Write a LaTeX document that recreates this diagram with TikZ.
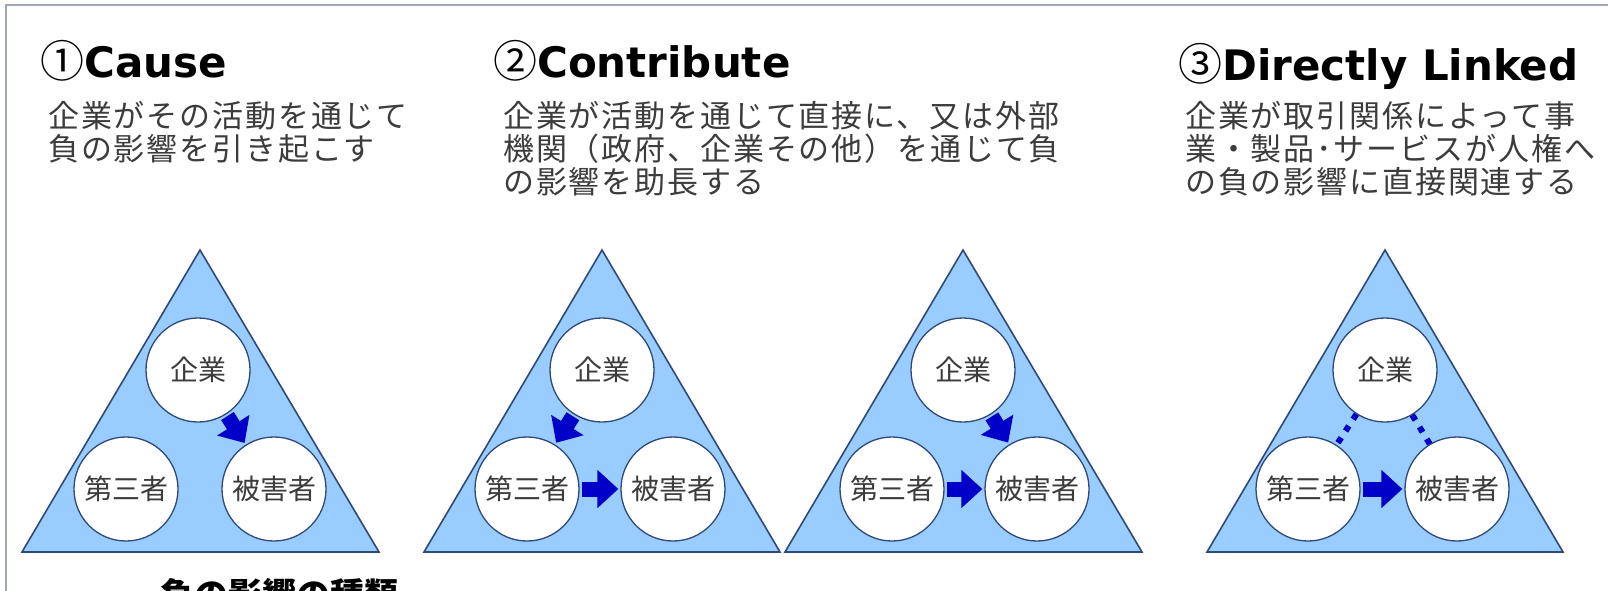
\documentclass[tikz,border=0pt]{standalone}
\usepackage{fontspec}
\setmainfont{DejaVu Sans}
\newfontfamily\jp{Noto Sans CJK JP}
\newfontfamily\jpsub[LetterSpace=6]{Noto Sans CJK JP}
\usetikzlibrary{arrows.meta}
\definecolor{trifill}{RGB}{153,204,255}
\definecolor{triline}{RGB}{47,74,120}
\definecolor{arrblue}{RGB}{0,0,200}
\definecolor{txtgray}{RGB}{60,60,60}
\definecolor{framegray}{RGB}{160,168,184}
\newcommand{\circnum}[1]{{\jp\mdseries\fontsize{44}{44}\selectfont #1}}
\tikzset{
  tribox/.style={fill=trifill, draw=triline, line width=1.6pt, line join=miter},
  party/.style={circle, draw=triline, line width=1.3pt, fill=white, minimum size=104pt, inner sep=0pt,
    font=\jp\fontsize{28}{28}\selectfont, text=txtgray},
  blockarrow/.style={draw=arrblue, line width=15pt, -{Triangle[length=21pt,width=37pt]},
    shorten <=2pt, shorten >=2pt},
  dotlink/.style={draw=arrblue, line width=6pt, dash pattern=on 6pt off 8pt},
  titletext/.style={inner sep=0pt, anchor=base west, font=\fontsize{42}{42}\selectfont\bfseries},
  subtext/.style={inner sep=0pt, anchor=base west, font=\jpsub\fontsize{31}{34}\selectfont, text=txtgray},
}
\begin{document}
\begin{tikzpicture}[x=1pt,y=-1pt]
\path[use as bounding box, clip] (0,0) rectangle (1608,590);
\fill[white] (0,0) rectangle (1608,590);
\draw[framegray, line width=2pt] (6,600) -- (6,4.5) -- (1610,4.5);

% titles
\node[titletext] (t1) at (40,77) {\circnum{①}Cause};
\node[titletext] (t2) at (493,77) {\circnum{②}Contribute};
\node[titletext] (t3) at (1178,80) {\circnum{③}Directly Linked};

% descriptions
\node[subtext] (d1a) at (48,127) {企業がその活動を通じて};
\node[subtext] (d1b) at (48,160) {負の影響を引き起こす};
\node[subtext] (d2a) at (503,127) {企業が活動を通じて直接に、又は外部};
\node[subtext] (d2b) at (503,160) {機関（政府、企業その他）を通じて負};
\node[subtext] (d2c) at (503,193) {の影響を助長する};
\node[subtext] (d3a) at (1185,127) {企業が取引関係によって事};
\node[subtext] (d3b) at (1185,160) {業・製品･サービスが人権へ};
\node[subtext] (d3c) at (1185,193) {の負の影響に直接関連する};

% triangles
\draw[tribox] (200,250) -- (379,552) -- (22,552) -- cycle;
\draw[tribox] (602,250) -- (780,552) -- (424,552) -- cycle;
\draw[tribox] (963,250) -- (1142,552) -- (785,552) -- cycle;
\draw[tribox] (1385,250) -- (1563,552) -- (1207,552) -- cycle;

% 1 Cause
\node[party] (a1) at (198,370) {企業};
\node[party] (b1) at (126,489) {第三者};
\node[party] (c1) at (274,489) {被害者};
\draw[blockarrow] (a1) -- (c1);

% 2 Contribute (a)
\node[party] (a2) at (602,370) {企業};
\node[party] (b2) at (527,489) {第三者};
\node[party] (c2) at (673,489) {被害者};
\draw[blockarrow] (a2) -- (b2);
\draw[blockarrow] (b2) -- (c2);

% 2 Contribute (b)
\node[party] (a3) at (963,370) {企業};
\node[party] (b3) at (892,489) {第三者};
\node[party] (c3) at (1037,489) {被害者};
\draw[blockarrow] (a3) -- (c3);
\draw[blockarrow] (b3) -- (c3);

% 3 Directly linked
\node[party] (a4) at (1385,370) {企業};
\node[party] (b4) at (1308,489) {第三者};
\node[party] (c4) at (1457,489) {被害者};
\draw[dotlink] (a4) -- (b4);
\draw[dotlink] (a4) -- (c4);
\draw[blockarrow] (b4) -- (c4);

% caption (cut off at bottom)
\node[inner sep=0pt, anchor=base west, font=\jp\bfseries\fontsize{34}{34}\selectfont] (cap) at (160,607) {負の影響の種類};
\end{tikzpicture}
\end{document}
